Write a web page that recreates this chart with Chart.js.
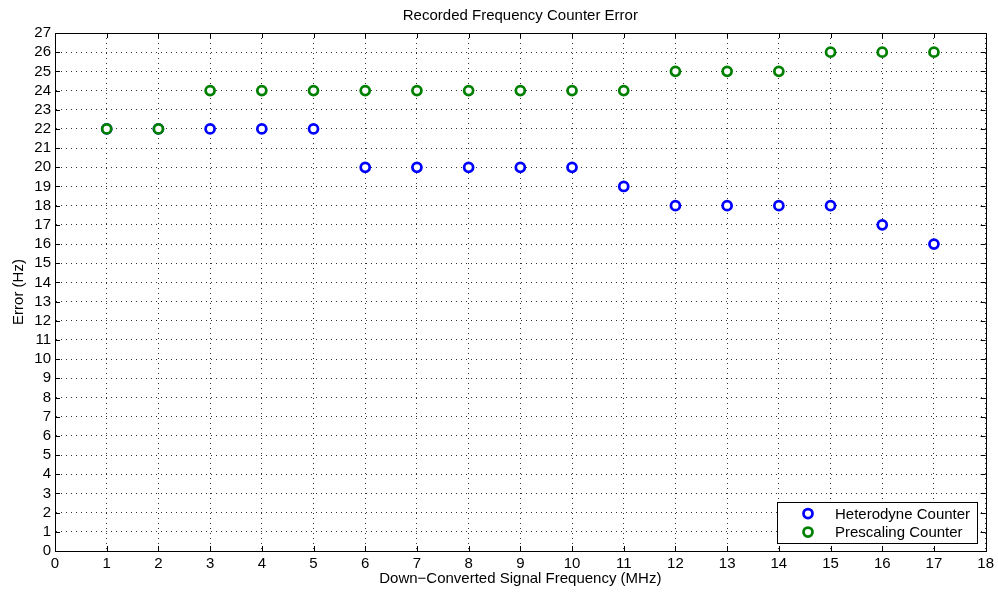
<!DOCTYPE html>
<html>
<head>
<meta charset="utf-8">
<script src="https://cdn.jsdelivr.net/npm/chart.js@4/dist/chart.umd.min.js"></script>
<style>
  html, body { margin: 0; padding: 0; background: #fff; }
  #wrap { width: 998px; height: 595px; }
</style>
</head>
<body>
<div id="wrap"><canvas id="errorChart" width="998" height="595"></canvas></div>
<script>
// values
const freqMHz = [1, 2, 3, 4, 5, 6, 7, 8, 9, 10, 11, 12, 13, 14, 15, 16, 17];
const heterodyneErr = [22, 22, 22, 22, 22, 20, 20, 20, 20, 20, 19, 18, 18, 18, 18, 17, 16];
const prescalingErr = [22, 22, 24, 24, 24, 24, 24, 24, 24, 24, 24, 25, 25, 25, 26, 26, 26];
const seriesNames = ['Heterodyne Counter', 'Prescaling Counter'];

const FONT = 'Helvetica, "Liberation Sans", Arial, sans-serif';

function toPoints(xs, ys) {
    return xs.map(function (x, i) { return { x: x, y: ys[i] }; });
}

// box, inward ticks, title and legend - MATLAB look
const matlabFrame = {
    id: 'matlabFrame',
    afterDraw: function (chart) {
        const ctx = chart.ctx;
        const area = chart.chartArea;
        const xs = chart.scales.x, ys = chart.scales.y;
        ctx.save();
        ctx.strokeStyle = '#000';
        ctx.lineWidth = 1;
        ctx.beginPath();
        // inward ticks
        for (let v = 0; v <= 18; v++) {
            const px = Math.round(xs.getPixelForValue(v)) + 0.5;
            ctx.moveTo(px, area.bottom); ctx.lineTo(px, area.bottom - 5);
            ctx.moveTo(px, area.top); ctx.lineTo(px, area.top + 5);
        }
        for (let v = 0; v <= 27; v++) {
            const py = Math.round(ys.getPixelForValue(v)) + 0.5;
            ctx.moveTo(area.left, py); ctx.lineTo(area.left + 5, py);
            ctx.moveTo(area.right, py); ctx.lineTo(area.right - 5, py);
        }
        ctx.stroke();
        ctx.strokeRect(Math.round(area.left) + 0.5, Math.round(area.top) + 0.5,
            Math.round(area.right - area.left), Math.round(area.bottom - area.top));

        // title
        ctx.fillStyle = '#000';
        ctx.font = '15px ' + FONT;
        ctx.textAlign = 'center';
        ctx.textBaseline = 'middle';
        ctx.fillText('Recorded Frequency Counter Error', (area.left + area.right) / 2, 16);

        // legend box
        const bx = 777.5, by = 502.5, bw = 200, bh = 41;
        ctx.fillStyle = '#fff';
        ctx.fillRect(bx, by, bw, bh);
        ctx.strokeRect(bx, by, bw, bh);
        ctx.font = '15px ' + FONT;
        ctx.textAlign = 'left';
        chart.data.datasets.forEach(function (ds, i) {
            const cy = by + 11 + i * 18.5;
            ctx.beginPath();
            ctx.arc(808, cy, 4.5, 0, Math.PI * 2);
            ctx.lineWidth = 2.75;
            ctx.strokeStyle = ds.borderColor;
            ctx.stroke();
            ctx.fillStyle = '#000';
            ctx.fillText(ds.label, 835, cy + 1);
        });
        ctx.restore();
    }
};

const chartConfig = {
    type: 'scatter',
    data: {
        datasets: [{
            label: seriesNames[0],
            data: toPoints(freqMHz, heterodyneErr),
            borderColor: '#0000ff',
            backgroundColor: '#ffffff',
            pointRadius: 4.5,
            pointBorderWidth: 2.75,
            order: 2
        }, {
            label: seriesNames[1],
            data: toPoints(freqMHz, prescalingErr),
            borderColor: '#008000',
            backgroundColor: '#ffffff',
            pointRadius: 4.5,
            pointBorderWidth: 2.75,
            order: 1
        }]
    },
    options: {
        responsive: false,
        animation: false,
        layout: { padding: { top: 33, right: 11, left: 0, bottom: 0 } },
        plugins: {
            legend: { display: false },
            title: { display: false },
            tooltip: { enabled: false }
        },
        scales: {
            x: {
                type: 'linear',
                min: 0, max: 18,
                ticks: { stepSize: 1, autoSkip: false, maxRotation: 0, color: '#000',
                    font: { family: FONT, size: 15 }, padding: 4 },
                grid: { color: '#333', lineWidth: 1, drawTicks: false, tickLength: 0 },
                border: { display: true, color: '#000', dash: [1, 4] },
                title: { display: true, text: 'Down\u2212Converted Signal Frequency (MHz)', color: '#000',
                    font: { family: FONT, size: 15 }, padding: { top: 0, bottom: 7 } },
                afterFit: function (scale) { scale.height = 44; }
            },
            y: {
                type: 'linear',
                min: 0, max: 27,
                ticks: { stepSize: 1, autoSkip: false, color: '#000',
                    font: { family: FONT, size: 15 }, padding: 4 },
                grid: { color: '#333', lineWidth: 1, drawTicks: false, tickLength: 0 },
                border: { display: true, color: '#000', dash: [1, 4] },
                title: { display: true, text: 'Error (Hz)', color: '#000',
                    font: { family: FONT, size: 15 }, padding: { top: 10, bottom: 0 } },
                afterFit: function (scale) { scale.width = 55; }
            }
        }
    },
    plugins: [matlabFrame]
};

window.onload = function () {
    const ctx = document.getElementById('errorChart').getContext('2d');
    window.errorChart = new Chart(ctx, chartConfig);
};
</script>
</body>
</html>
